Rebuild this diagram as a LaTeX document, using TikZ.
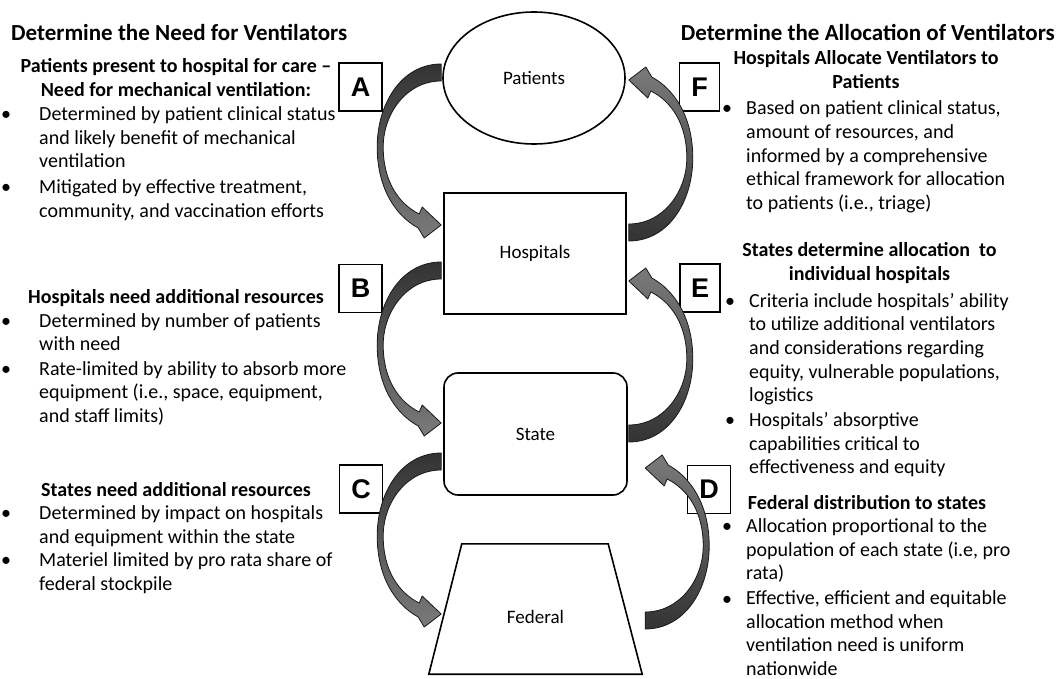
\documentclass[tikz,border=0pt]{standalone}
\usepackage{fontspec}
\setmainfont{Carlito}
\newfontfamily\letterfont{Liberation Sans}
\usetikzlibrary{shapes.geometric,calc}
\newcommand\myarrowpath{(0,0) .. controls (-40,0) and (-64,40) .. (-64,83)
      .. controls (-64,125) and (-45,152) .. (-23,164) -- (-17,174) -- (0,161) -- (-19,143) -- (-22,150)
      .. controls (-42,140) and (-58,118) .. (-58,83) .. controls (-58,50) and (-35,17) .. (0,17) -- cycle}
\begin{document}
\begin{tikzpicture}[x=1pt,y=-1pt,
  body/.style={font=\fontsize{20}{23.6}\selectfont, inner sep=0pt, anchor=base west, align=left},
  subhead/.style={font=\bfseries\fontsize{20}{24}\selectfont, inner sep=0pt, anchor=base, align=center},
  head/.style={font=\bfseries\fontsize{23}{28}\selectfont, inner sep=0pt, anchor=base west},
  bul/.style={font=\fontsize{20}{24}\selectfont, inner sep=0pt, anchor=base},
  letterbox/.style={draw, line width=1.3pt, fill=white, minimum width=43, minimum height=48, inner sep=0pt, font=\letterfont\bfseries\fontsize{27}{30}\selectfont},
  flowshape/.style={draw, line width=1.6pt, inner sep=0pt, font=\fontsize{19}{22}\selectfont},
  arrowline/.style={draw=black!90, line width=0.8pt, line join=round},
  leftarrow/.pic={\draw[arrowline, top color=black!80, bottom color=black!52] \myarrowpath;},
  rightarrow/.pic={\draw[arrowline, top color=black!52, bottom color=black!80] \myarrowpath;}
]
\useasboundingbox (0,0) rectangle (1058,679);

% central flow shapes
\node[flowshape, ellipse, minimum width=182, minimum height=132] (pat) at (534,78) {Patients};
\node[flowshape, rectangle, minimum width=182, minimum height=121] (hosp) at (535,253.5) {Hospitals};
\node[flowshape, rectangle, rounded corners=14pt, minimum width=183, minimum height=122] (state) at (535.5,434) {State};
\node[inner sep=0pt, minimum width=213, minimum height=130] (fed) at (535.5,609) {};
\draw[line width=1.6pt, line join=miter] (fed.south west) -- (fed.south east) -- ($(fed.north east)+(-34,0)$) -- ($(fed.north west)+(33,0)$) -- cycle;
\node[font=\fontsize{19}{22}\selectfont, inner sep=0pt] (fedlbl) at ($(fed.center)+(0,8)$) {Federal};

% letter boxes
\node[letterbox] (boxA) at (360.5,87) {A};
\node[letterbox] (boxB) at (360.5,288.5) {B};
\node[letterbox] (boxC) at (361,489) {C};
\node[letterbox, minimum width=40] (boxF) at (699.5,87) {F};
\node[letterbox, minimum width=40] (boxE) at (700,288) {E};
\node[letterbox] (boxD) at (709,489.5) {D};

% curved block arrows
\pic (arrA) at ($(pat.west)+(-1,-14)$) {leftarrow};
\pic (arrB) at ($(hosp.west)+(-2,8.5)$) {leftarrow};
\pic (arrC) at ($(state.west)+(-2,19)$) {leftarrow};
\pic[rotate=180] (arrF) at ($(hosp.east)+(2,-12.5)$) {rightarrow};
\pic[rotate=180] (arrE) at ($(state.east)+(1,8)$) {rightarrow};
\pic[rotate=180] (arrD) at ($(fed.east)+(3,20)$) {rightarrow};

% left column (multi-line nodes are placed by the baseline of their last line)
\node[head] (lhead) at (11,41) {Determine the Need for Ventilators};
\node[subhead] (asub) at (176,96.7) {Patients present to hospital for care –\\Need for mechanical ventilation:};
\node[bul] (ab1) at (6,120.7) {•};
\node[body] (at1) at (39,167.9) {Determined by patient clinical status\\and likely benefit of mechanical\\ventilation};
\node[bul] (ab2) at (6,193.5) {•};
\node[body] (at2) at (39,217.1) {Mitigated by effective treatment,\\community, and vaccination efforts};

\node[subhead] (bsub) at (176,304) {Hospitals need additional resources};
\node[bul] (bb1) at (6,327.3) {•};
\node[body] (bt1) at (39,350.9) {Determined by number of patients\\with need};
\node[bul] (bb2) at (6,375) {•};
\node[body] (bt2) at (39,422.2) {Rate-limited by ability to absorb more\\equipment (i.e., space, equipment,\\and staff limits)};

\node[subhead] (csub) at (176,496.7) {States need additional resources};
\node[bul] (cb1) at (6,519.5) {•};
\node[body] (ct1) at (39,543.1) {Determined by impact on hospitals\\and equipment within the state};
\node[bul] (cb2) at (6,566.7) {•};
\node[body] (ct2) at (39,590.3) {Materiel limited by pro rata share of\\federal stockpile};

% right column
\node[head, anchor=base east] (rhead) at (1055,41) {Determine the Allocation of Ventilators};
\node[subhead] (fsub) at (866,89) {Hospitals Allocate Ventilators to\\Patients};
\node[bul] (fb1) at (727,115) {•};
\node[body] (ft1) at (746,209.4) {Based on patient clinical status,\\amount of resources, and\\informed by a comprehensive\\ethical framework for allocation\\to patients (i.e., triage)};

\node[subhead] (esub) at (869.5,280.7) {States determine allocation \ to\\individual hospitals};
\node[bul] (eb1) at (730,307.3) {•};
\node[body] (et1) at (749,401.7) {Criteria include hospitals’ ability\\to utilize additional ventilators\\and considerations regarding\\equity, vulnerable populations,\\logistics};
\node[bul] (eb2) at (730,426.7) {•};
\node[body] (et2) at (749,473.9) {Hospitals’ absorptive\\capabilities critical to\\effectiveness and equity};

\node[subhead] (dsub) at (867,509.3) {Federal distribution to states};
\node[bul] (db1) at (727,532.7) {•};
\node[body] (dt1) at (746,579.9) {Allocation proportional to the\\population of each state (i.e, pro\\rata)};
\node[bul] (db2) at (727,605) {•};
\node[body] (dt2) at (746,675.3) {Effective, efficient and equitable\\allocation method when\\ventilation need is uniform\\nationwide};
\end{tikzpicture}
\end{document}
